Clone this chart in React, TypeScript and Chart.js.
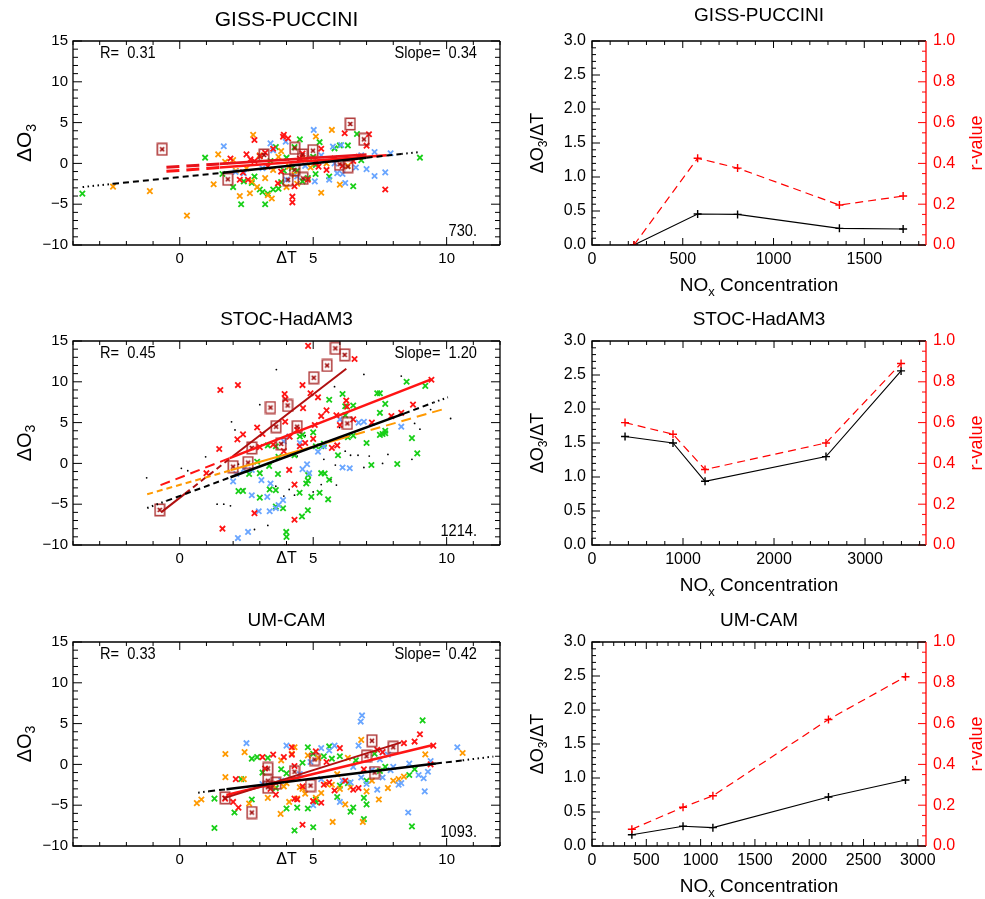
import React, { useEffect, useRef } from 'react';
import { Chart, registerables } from 'chart.js';

Chart.register(...registerables);

type Pt = [number, number];

const FAMILY = "'Liberation Sans', Arimo, Arial, Helvetica, sans-serif";

// ---------------- labels / stats ----------------
const modelNames = ['GISS-PUCCINI', 'STOC-HadAM3', 'UM-CAM'];
const rValues = ['0.31', '0.45', '0.33'];
const slopeValues = ['0.34', '1.20', '0.42'];
const sampleCounts = ['730.', '1214.', '1093.'];

// ---------------- scatter axes ----------------
const dtRange = [-4, 12];
const dtTicks = [0, 5, 10];
const dO3Range = [-10, 15];
const dO3Ticks = [-10, -5, 0, 5, 10, 15];

// ---------------- GISS-PUCCINI scatter ----------------
const gissGreen: Pt[] = [[-3.65,-3.7],[0.95,0.7],[1.6,-1.3],[2.0,-2.9],[2.3,-5.0],[3.2,-5.0],[3.0,-3.2],[2.8,-1.6],[3.1,-3.5],[3.3,-3.7],[3.5,-3.2],[3.7,-3.1],[2.7,-2.4],[4.0,0.7],[4.3,2.0],[3.6,2.0],[4.5,2.95],[5.24,2.6],[5.8,1.85],[6.3,2.2],[6.0,2.2],[6.64,3.6],[6.5,-2.8],[6.8,0.4],[9.0,0.7],[5.09,-1.3],[5.6,-1.6],[4.2,-0.6],[3.9,-0.9],[2.4,-2.2],[4.6,-2.2],[3.4,0.3],[5.0,0.8],[4.8,-1.8],[3.0,0.9],[3.8,-2.3],[4.4,-0.9],[5.1,-0.2]];
const gissOrange: Pt[] = [[-2.5,-2.85],[-1.12,-3.4],[0.27,-6.4],[1.27,-2.56],[1.44,1.1],[2.25,-4.0],[2.63,-3.66],[2.7,-2.2],[2.75,3.5],[2.9,-2.9],[3.3,-3.9],[3.45,-4.3],[3.0,1.0],[3.7,0.8],[4.1,-0.4],[4.4,-2.5],[5.1,3.3],[5.7,4.1],[5.3,-3.6],[6.0,-2.6],[4.3,-1.4],[4.9,-0.5],[5.5,0.0],[3.2,-1.8],[2.1,-0.9],[1.7,0.2],[4.7,0.5],[6.3,-0.3],[3.8,1.5],[2.0,0.4],[2.5,-0.6],[3.5,-0.8],[4.0,-2.9]];
const gissBlue: Pt[] = [[1.65,2.1],[2.09,-1.05],[3.4,2.46],[3.5,1.6],[3.97,2.66],[5.02,4.1],[5.74,2.05],[6.05,2.25],[6.2,-2.4],[7.0,-0.7],[7.3,-1.55],[7.7,-1.1],[7.3,1.4],[7.9,1.24],[5.06,-2.2],[5.6,-2.0],[5.9,-1.2],[4.4,-1.6],[3.1,-0.6],[4.7,-0.3],[6.6,-0.5],[5.3,1.0],[2.4,-1.2],[4.0,-2.0],[6.8,1.0],[5.8,0.0],[6.1,-1.3]];
const gissRed: Pt[] = [[1.9,0.6],[2.5,1.1],[2.65,0.5],[2.37,-1.1],[2.25,-2.0],[2.56,-2.0],[2.8,2.87],[3.0,0.9],[3.2,1.3],[3.5,1.8],[3.87,3.27],[3.9,3.5],[4.06,3.07],[4.22,-4.08],[4.22,-4.77],[3.68,-2.44],[4.5,0.6],[4.8,-2.0],[5.3,1.8],[5.5,-0.8],[5.8,0.6],[6.18,3.7],[7.09,3.57],[7.0,2.17],[7.7,-3.2],[6.1,-0.3],[3.3,-0.4],[4.6,1.2],[5.1,0.1],[6.5,0.3],[2.8,0.3],[3.8,-1.0],[4.3,-2.8],[5.2,-0.4],[6.7,0.8]];
const gissBoxed: Pt[] = [[-0.66,1.73],[1.8,-1.95],[3.16,1.03],[4.31,1.85],[4.6,1.03],[4.99,1.56],[6.39,4.83],[6.9,2.95],[5.99,-0.1],[6.3,-0.4],[4.06,-2.0],[4.62,-1.83],[4.3,-0.8]];
const gissFitBlack: Pt[] = [[-3.64,-2.9],[-2.5,-2.5],[1.6,-1.15],[7.0,0.7],[8.3,1.15],[9.0,1.4]];
const gissFitRed: Pt[] = [[-0.5,-0.97],[1.5,-0.5],[7.75,1.0]];
const gissFitRed2: Pt[] = [[-0.5,-0.48],[1.5,-0.06],[7.0,1.1]];

// ---------------- STOC-HadAM3 scatter ----------------
const stocGreen: Pt[] = [[8.5,10.0],[9.2,9.5],[7.4,8.6],[7.5,8.6],[6.1,8.5],[5.6,7.8],[6.2,7.0],[6.5,7.1],[7.5,6.2],[7.7,7.3],[4.5,3.3],[4.6,3.5],[5.0,3.8],[5.1,2.1],[5.4,2.4],[5.3,2.1],[4.3,1.0],[4.81,-1.44],[4.74,-2.46],[4.8,-2.1],[4.49,-3.6],[4.93,-4.1],[5.24,-3.6],[5.43,-1.24],[5.3,-1.2],[5.56,-4.4],[4.8,-5.74],[4.58,-6.5],[3.87,-5.5],[3.6,-5.3],[3.6,-3.27],[3.37,-3.19],[3.0,-4.2],[2.37,-3.37],[2.2,-3.4],[2.6,-1.3],[3.35,-0.3],[3.0,-1.2],[3.68,-1.3],[3.99,-8.4],[4.0,-9.0],[5.6,-2.0],[5.93,1.0],[6.3,3.2],[7.0,2.5],[7.18,-0.2],[7.5,3.5],[7.6,3.6],[7.7,4.0],[7.7,3.7],[8.15,-0.07],[8.7,3.1],[8.9,1.23],[3.3,2.2],[3.6,2.1],[2.9,0.2],[3.7,0.8],[6.5,3.4],[6.2,5.9]];
const stocBlue: Pt[] = [[2.0,-2.2],[2.12,-1.3],[2.4,-0.7],[2.7,-0.8],[2.96,-5.86],[3.37,-5.86],[2.56,-8.4],[2.18,-9.15],[3.4,-2.46],[3.28,-4.1],[3.6,-5.5],[3.7,-5.1],[3.87,-4.5],[3.06,-2.05],[4.77,-0.1],[4.85,-1.2],[5.18,1.43],[5.4,2.1],[4.5,2.5],[6.0,5.4],[6.7,5.0],[6.9,5.1],[6.37,-0.6],[8.3,4.5],[2.7,-3.9],[3.9,2.7],[4.1,3.3],[6.1,-0.5],[4.6,-0.7]];
const stocRed: Pt[] = [[4.81,14.4],[6.55,12.8],[1.52,9.0],[2.18,9.6],[4.6,9.6],[4.9,8.6],[5.18,8.1],[3.93,8.5],[3.96,7.87],[6.24,7.7],[6.27,6.96],[5.5,6.5],[4.62,6.77],[2.37,3.56],[2.16,2.95],[1.48,1.76],[1.0,-1.2],[3.95,5.1],[4.4,4.1],[5.0,3.0],[5.06,4.7],[5.87,5.9],[5.3,5.8],[6.0,4.7],[7.2,5.0],[7.93,5.8],[8.3,6.2],[8.74,7.2],[9.43,10.25],[4.1,-0.8],[4.3,-2.6],[4.3,-6.9],[1.6,-8.0],[2.8,-6.1],[4.0,-10.3],[3.5,2.3],[4.5,2.1],[3.1,3.6],[2.9,4.4],[3.0,2.0],[3.9,1.5],[4.12,3.27],[5.7,1.9],[6.5,5.4],[4.7,2.5],[5.9,2.2]];
const stocDots: Pt[] = [[-1.24,-1.77],[0.06,-0.6],[0.97,0.8],[1.65,-5.0],[1.9,-5.2],[2.8,-8.1],[3.62,11.5],[6.9,10.9],[8.3,10.7],[10.15,5.5],[1.94,5.1],[2.07,4.1],[3.0,7.2],[5.99,4.4],[4.1,-3.2],[5.83,-0.2],[6.68,1.0],[7.1,0.9],[7.6,0.0],[5.66,-2.0],[5.87,-2.66],[5.0,-3.5],[5.3,-2.6],[5.4,0.5],[6.4,1.0],[9.0,4.2],[5.8,9.4],[3.9,-4.0],[4.3,-3.9],[6.9,-0.5],[8.7,0.5],[2.4,-3.2],[3.6,-2.8],[1.4,-5.0],[2.2,-0.1],[3.5,0.2],[4.4,0.9],[6.2,1.5],[7.8,1.1],[8.8,4.9],[9.4,6.6],[4.7,3.4],[3.3,-7.6],[0.3,-0.9]];
const stocBoxed: Pt[] = [[-0.75,-5.7],[2.0,-0.4],[2.56,0.1],[2.7,1.9],[3.61,4.5],[3.4,6.85],[4.04,7.1],[3.8,2.4],[4.4,4.5],[5.02,10.5],[5.52,12.0],[5.83,14.1],[6.18,13.3],[6.28,4.9]];
const stocFitBlack: Pt[] = [[-1.22,-5.46],[-0.5,-4.6],[1.9,-1.7],[8.4,6.1],[9.5,7.45],[10.05,8.1]];
const stocFitOrange: Pt[] = [[-1.22,-3.78],[1.9,-0.85],[6.0,3.0],[10.0,6.76]];
const stocFitRed: Pt[] = [[-0.72,-2.67],[1.87,0.65],[9.42,10.3]];
const stocFitDarkRed: Pt[] = [[-0.7,-6.0],[0.2,-3.7],[2.0,0.9],[6.24,11.6]];

// ---------------- UM-CAM scatter ----------------
const umGreen: Pt[] = [[1.3,-7.8],[1.3,-4.2],[2.05,-5.9],[2.7,-4.3],[2.7,0.7],[2.9,0.9],[3.3,0.8],[3.6,-2.9],[3.8,-0.6],[4.0,-5.4],[4.0,-1.1],[4.3,-8.1],[4.4,-5.3],[4.6,0.2],[4.8,2.1],[4.8,-5.4],[5.0,-7.7],[5.0,1.3],[5.1,-4.3],[5.1,-4.6],[5.4,1.0],[5.6,2.2],[5.9,-4.0],[6.0,1.0],[6.0,-2.6],[6.3,-2.3],[6.4,-5.8],[6.5,-5.3],[6.9,-6.7],[6.9,-4.1],[7.0,-2.0],[7.0,-4.9],[7.3,1.3],[7.5,-0.8],[7.7,-0.3],[8.7,-7.6],[9.1,5.4],[8.8,-0.6],[8.6,-1.3],[5.7,0.7],[6.6,0.5],[3.1,-1.0],[2.3,-1.8]];
const umOrange: Pt[] = [[0.64,-4.75],[0.81,-4.3],[1.71,1.27],[1.71,-1.56],[2.4,-1.8],[2.43,1.5],[2.6,-4.8],[3.3,-4.1],[3.5,-2.6],[3.78,-6.06],[3.9,-2.7],[4.1,-4.6],[4.2,1.3],[4.3,2.1],[4.4,-4.2],[4.5,-2.8],[4.6,-3.0],[4.7,-3.6],[4.8,1.1],[5.0,-4.5],[5.1,-4.1],[5.3,-3.5],[5.5,-2.4],[5.73,-7.05],[5.7,-2.5],[6.0,-3.0],[6.2,-4.9],[6.4,-2.8],[6.8,3.0],[6.86,-7.05],[7.0,-3.3],[7.2,-2.0],[7.46,-4.3],[7.8,-2.9],[8.0,-2.0],[8.4,-1.5],[8.2,-1.8],[9.2,1.23],[10.6,1.4],[5.2,0.8],[6.3,0.8],[3.8,0.5],[4.0,-2.3],[5.9,-1.2]];
const umBlue: Pt[] = [[2.5,2.6],[4.0,2.3],[4.9,0.3],[5.3,2.0],[5.6,1.7],[5.8,2.3],[6.0,-4.6],[6.1,-2.0],[6.4,-2.2],[6.5,-0.3],[6.7,2.3],[6.78,5.25],[6.83,6.0],[7.0,-2.4],[7.2,-0.7],[7.4,-3.1],[7.5,0.6],[7.6,1.5],[7.8,1.2],[7.9,-0.7],[8.0,-0.3],[8.2,-2.5],[8.3,-2.3],[8.6,0.1],[8.56,-5.9],[8.95,-1.3],[9.14,-1.7],[9.18,-3.3],[9.3,-0.9],[9.4,0.4],[10.4,2.1],[4.5,-1.2],[5.0,-5.0],[5.3,-1.8],[6.8,-1.6],[7.6,-1.6],[3.1,-2.4],[3.8,-2.0]];
const umRed: Pt[] = [[1.7,-4.2],[2.0,-4.6],[2.1,-1.8],[2.2,-5.3],[3.1,0.9],[3.2,-0.5],[3.4,-3.0],[3.6,-3.7],[3.9,0.9],[4.2,2.1],[4.2,1.2],[4.3,-0.2],[4.3,-4.2],[4.6,-2.7],[4.6,-7.4],[5.0,-4.5],[5.1,1.6],[5.3,-4.7],[5.4,-2.5],[5.6,-2.2],[5.8,-3.2],[6.0,2.0],[6.2,-2.0],[6.5,-3.1],[6.7,-2.9],[6.9,-0.6],[7.4,1.8],[7.6,1.5],[8.4,2.6],[8.8,2.8],[9.0,3.7],[9.4,0.0],[9.5,2.3],[5.5,0.3],[3.5,1.2],[4.4,-4.3]];
const umBoxed: Pt[] = [[1.7,-4.1],[2.7,-5.9],[3.3,-0.5],[3.3,-2.0],[3.3,-2.8],[3.6,-2.3],[4.3,-0.9],[4.9,-2.6],[5.05,0.6],[7.0,1.0],[7.2,2.9],[7.3,-1.0],[8.0,2.1]];
const umFitBlack: Pt[] = [[0.69,-3.46],[1.1,-3.3],[1.75,-3.04],[9.6,0.1],[10.6,0.5],[11.75,0.96]];
const umFitRed: Pt[] = [[1.75,-3.74],[9.49,2.39]];
const umFitDarkRed: Pt[] = [[1.7,-4.1],[8.3,2.7]];

// ---------------- NOx sensitivity panels ----------------
const gissNox = [231, 582, 802, 1363, 1714];
const gissSens = [0.0, 0.455, 0.45, 0.245, 0.235];
const gissR = [0.0, 0.425, 0.377, 0.196, 0.24];
const stocNox = [363, 890, 1242, 2571, 3396];
const stocSens = [1.595, 1.5, 0.937, 1.3, 2.56];
const stocR = [0.6, 0.543, 0.37, 0.5, 0.89];
const umNox = [367, 838, 1113, 2177, 2886];
const umSens = [0.165, 0.29, 0.27, 0.72, 0.97];
const umR = [0.082, 0.19, 0.246, 0.62, 0.83];

const noxMax = [1840, 3670, 3075];
const noxTicks = [[0, 500, 1000, 1500], [0, 1000, 2000, 3000], [0, 500, 1000, 1500, 2000, 2500, 3000]];
const noxMinorStep = [100, 200, 100];
const sensTicks = [0, 0.5, 1.0, 1.5, 2.0, 2.5, 3.0];
const rTicks = [0, 0.2, 0.4, 0.6, 0.8, 1.0];

// ---------------- styling ----------------
const C = {
  green: '#18cf18',
  orange: '#ff9a00',
  blue: '#6aa6ff',
  red: '#ff1414',
  red2: '#e8121a',
  darkRed: '#b01010',
  orangeLine: '#ff9900',
};

const LINE_STYLES: Record<string, { dash: number[]; w: number }> = {
  dot: { dash: [1.5, 3.5], w: 2 },
  dash: { dash: [6, 4], w: 2 },
  solid: { dash: [], w: 2.6 },
  ldash: { dash: [13, 7], w: 3 },
  ldashThin: { dash: [10, 6], w: 2 },
  thin: { dash: [], w: 2 },
};

const toXY = (a: Pt[]) => a.map(([x, y]) => ({ x, y }));
const zipXY = (xs: number[], ys: number[]) => xs.map((x, i) => ({ x, y: ys[i] }));

function fitSets(points: Pt[], styles: string[], color: string) {
  return styles.map((s, i) => ({
    type: 'line',
    data: toXY([points[i], points[i + 1]]),
    borderColor: color,
    borderWidth: LINE_STYLES[s].w,
    borderDash: LINE_STYLES[s].dash,
    borderCapStyle: 'butt',
    pointRadius: 0,
    fill: false,
    tension: 0,
    order: 0,
  }));
}

function markerSet(data: Pt[], color: string, order: number) {
  return {
    type: 'scatter',
    data: toXY(data),
    pointStyle: 'crossRot',
    pointRadius: 3.8,
    pointBorderWidth: 1.8,
    pointBorderColor: color,
    pointBackgroundColor: color,
    borderColor: color,
    showLine: false,
    order,
  };
}

function makeBoxMarker() {
  const c = document.createElement('canvas');
  c.width = 12;
  c.height = 14;
  const g = c.getContext('2d')!;
  g.strokeStyle = 'rgba(165,30,30,0.85)';
  g.lineWidth = 1.6;
  g.strokeRect(1.3, 1.3, 9.4, 11.4);
  g.strokeStyle = '#a00c0c';
  g.lineWidth = 1.7;
  g.beginPath();
  g.moveTo(4, 5);
  g.lineTo(8, 9);
  g.moveTo(8, 5);
  g.lineTo(4, 9);
  g.stroke();
  return c;
}

function drawParts(ctx: any, t: any, a: any) {
  const x = t.x === 'center' ? (a.left + a.right) / 2 : t.x;
  ctx.save();
  ctx.translate(x, t.y);
  if (t.rot) ctx.rotate(t.rot);
  if (t.hscale) ctx.scale(t.hscale, 1);
  const fontFor = (p: any) => `${p.sub ? Math.round(t.size * 0.68) : t.size}px ${FAMILY}`;
  const ws = t.parts.map((p: any) => {
    ctx.font = fontFor(p);
    return ctx.measureText(p.t).width;
  });
  const total = ws.reduce((s: number, w: number) => s + w, 0);
  let cx = t.align === 'left' ? 0 : t.align === 'right' ? -total : -total / 2;
  ctx.fillStyle = t.color || '#000';
  ctx.textBaseline = 'middle';
  ctx.textAlign = 'left';
  t.parts.forEach((p: any, i: number) => {
    ctx.font = fontFor(p);
    ctx.fillText(p.t, cx, p.sub ? t.size * 0.32 : 0);
    cx += ws[i];
  });
  ctx.restore();
}

const idlPlugin = {
  id: 'idl',
  afterDraw(chart: any, _args: any, opts: any) {
    const { ctx, chartArea: a } = chart;
    ctx.save();
    for (const ax of opts.axes) {
      const s = chart.scales[ax.id];
      const majors: number[] = s.ticks.map((t: any) => t.value);
      const marks: { v: number; len: number }[] = [];
      const i0 = Math.ceil(s.min / ax.minor - 1e-6);
      const i1 = Math.floor(s.max / ax.minor + 1e-6);
      for (let i = i0; i <= i1; i++) {
        const v = i * ax.minor;
        if (!majors.some((m) => Math.abs(m - v) < ax.minor * 1e-3)) marks.push({ v, len: ax.minorLen });
      }
      majors.forEach((v) => marks.push({ v, len: ax.majorLen }));
      ctx.strokeStyle = ax.color;
      ctx.lineWidth = 1;
      ctx.setLineDash([]);
      ctx.beginPath();
      for (const { v, len } of marks) {
        const p = s.getPixelForValue(v);
        for (const side of ax.sides) {
          if (side === 'bottom') { ctx.moveTo(p, a.bottom); ctx.lineTo(p, a.bottom - len); }
          if (side === 'top') { ctx.moveTo(p, a.top); ctx.lineTo(p, a.top + len); }
          if (side === 'left') { ctx.moveTo(a.left, p); ctx.lineTo(a.left + len, p); }
          if (side === 'right') { ctx.moveTo(a.right, p); ctx.lineTo(a.right - len, p); }
        }
      }
      ctx.stroke();
    }
    ctx.lineWidth = 1.3;
    ctx.strokeStyle = '#000';
    ctx.beginPath();
    ctx.moveTo(a.right, a.top);
    ctx.lineTo(a.left, a.top);
    ctx.lineTo(a.left, a.bottom);
    ctx.lineTo(a.right, a.bottom);
    ctx.stroke();
    ctx.strokeStyle = opts.rightColor || '#000';
    ctx.beginPath();
    ctx.moveTo(a.right, a.top);
    ctx.lineTo(a.right, a.bottom);
    ctx.stroke();
    for (const t of opts.texts) drawParts(ctx, t, a);
    ctx.restore();
  },
};

const minusFmt = (v: number) => String(v).replace('-', '\u2212');

const scatterPanels = [
  {
    green: gissGreen, orange: gissOrange, blue: gissBlue, red: gissRed, boxed: gissBoxed, dots: [] as Pt[],
    fits: [
      { pts: gissFitBlack, styles: ['dot', 'dash', 'solid', 'dash', 'dot'], color: '#000' },
      { pts: gissFitRed2, styles: ['ldash', 'solid'], color: C.red2 },
      { pts: gissFitRed, styles: ['ldash', 'solid'], color: C.red },
    ],
  },
  {
    green: stocGreen, orange: [] as Pt[], blue: stocBlue, red: stocRed, boxed: stocBoxed, dots: stocDots,
    fits: [
      { pts: stocFitBlack, styles: ['dot', 'dash', 'solid', 'dash', 'dot'], color: '#000' },
      { pts: stocFitOrange, styles: ['dash', 'thin', 'ldashThin'], color: C.orangeLine },
      { pts: stocFitRed, styles: ['ldashThin', 'solid'], color: C.red },
      { pts: stocFitDarkRed, styles: ['thin', 'dash', 'thin'], color: C.darkRed },
    ],
  },
  {
    green: umGreen, orange: umOrange, blue: umBlue, red: umRed, boxed: umBoxed, dots: [] as Pt[],
    fits: [
      { pts: umFitBlack, styles: ['dot', 'dash', 'solid', 'dash', 'dot'], color: '#000' },
      { pts: umFitDarkRed, styles: ['thin'], color: C.darkRed },
      { pts: umFitRed, styles: ['solid'], color: C.red },
    ],
  },
];

function scatterConfig(i: number, h: number): any {
  const P = scatterPanels[i];
  const box = makeBoxMarker();
  const datasets: any[] = [
    ...P.fits.flatMap((f) => fitSets(f.pts, f.styles, f.color)),
    { type: 'scatter', data: toXY(P.boxed), pointStyle: box, pointRadius: 6, showLine: false, order: 1 },
    markerSet(P.red, C.red, 2),
    markerSet(P.blue, C.blue, 3),
    markerSet(P.orange, C.orange, 4),
    markerSet(P.green, C.green, 5),
    {
      type: 'scatter', data: toXY(P.dots), pointStyle: 'circle', pointRadius: 0.9, pointBorderWidth: 0,
      pointBackgroundColor: '#000', showLine: false, order: 6,
    },
  ];
  const big = i === 0;
  return {
    type: 'scatter',
    data: { datasets },
    plugins: [idlPlugin],
    options: {
      responsive: false,
      animation: false,
      devicePixelRatio: 1,
      events: [],
      layout: { padding: { top: 41, right: 10, left: 0, bottom: 0 } },
      plugins: {
        legend: { display: false },
        tooltip: { enabled: false },
        idl: {
          rightColor: '#000',
          axes: [
            { id: 'x', sides: ['bottom', 'top'], minor: 1, majorLen: 8, minorLen: 4, color: '#000' },
            { id: 'y', sides: ['left', 'right'], minor: 1, majorLen: 9, minorLen: 5, color: '#000' },
          ],
          texts: [
            { parts: [{ t: modelNames[i] }], size: big ? 21 : 19, x: 'center', y: 20 },
            { parts: [{ t: '\u0394O' }, { t: '3', sub: true }], size: big ? 21 : 20, x: 25, y: 143, rot: -Math.PI / 2 },
            { parts: [{ t: '\u0394T' }], size: 16, x: 'center', y: 259 },
            { parts: [{ t: `R=  ${rValues[i]}` }], size: 17, x: 100, y: 53, align: 'left', hscale: 0.86 },
            { parts: [{ t: `Slope=  ${slopeValues[i]}` }], size: 17, x: 477, y: 53, align: 'right', hscale: 0.86 },
            { parts: [{ t: sampleCounts[i] }], size: 17, x: 477, y: 231, align: 'right', hscale: 0.86 },
          ],
        },
      },
      scales: {
        x: {
          type: 'linear', min: dtRange[0], max: dtRange[1],
          afterBuildTicks: (s: any) => { s.ticks = dtTicks.map((v) => ({ value: v })); },
          afterFit: (s: any) => { s.height = h - 245; },
          ticks: { font: { family: FAMILY, size: 15 }, color: '#000', padding: 5, maxRotation: 0, autoSkip: false, callback: (v: number) => minusFmt(v) },
          grid: { display: false, drawTicks: false },
          border: { display: false },
        },
        y: {
          type: 'linear', min: dO3Range[0], max: dO3Range[1],
          afterBuildTicks: (s: any) => { s.ticks = dO3Ticks.map((v) => ({ value: v })); },
          afterFit: (s: any) => { s.width = 73; },
          ticks: { font: { family: FAMILY, size: 15 }, color: '#000', padding: 5, autoSkip: false, callback: (v: number) => minusFmt(v) },
          grid: { display: false, drawTicks: false },
          border: { display: false },
        },
      },
    },
  };
}

const noxPanels = [
  { nox: gissNox, sens: gissSens, r: gissR },
  { nox: stocNox, sens: stocSens, r: stocR },
  { nox: umNox, sens: umSens, r: umR },
];

function noxConfig(i: number, h: number): any {
  const P = noxPanels[i];
  return {
    type: 'line',
    data: {
      datasets: [
        {
          data: zipXY(P.nox, P.r), yAxisID: 'y2', borderColor: '#ff0000', borderWidth: 1.2, borderDash: [8, 5],
          pointStyle: 'cross', pointRadius: 4, pointBorderWidth: 1.4, pointBorderColor: '#ff0000', tension: 0, fill: false,
        },
        {
          data: zipXY(P.nox, P.sens), yAxisID: 'y', borderColor: '#000', borderWidth: 1.1,
          pointStyle: 'cross', pointRadius: 4, pointBorderWidth: 1.4, pointBorderColor: '#000', tension: 0, fill: false,
        },
      ],
    },
    plugins: [idlPlugin],
    options: {
      responsive: false,
      animation: false,
      devicePixelRatio: 1,
      events: [],
      layout: { padding: { top: 41, right: 0, left: 0, bottom: 0 } },
      plugins: {
        legend: { display: false },
        tooltip: { enabled: false },
        idl: {
          rightColor: '#ff0000',
          axes: [
            { id: 'x', sides: ['bottom', 'top'], minor: noxMinorStep[i], majorLen: 7, minorLen: 4, color: '#000' },
            { id: 'y', sides: ['left'], minor: 0.1, majorLen: 8, minorLen: 4, color: '#000' },
            { id: 'y2', sides: ['right'], minor: 0.05, majorLen: 8, minorLen: 4, color: '#ff0000' },
          ],
          texts: [
            { parts: [{ t: modelNames[i] }], size: 19, x: 'center', y: i === 0 ? 16 : 20 },
            { parts: [{ t: '\u0394O' }, { t: '3', sub: true }, { t: '/\u0394T' }], size: 18, x: 28, y: 143, rot: -Math.PI / 2 },
            { parts: [{ t: 'NO' }, { t: 'x', sub: true }, { t: ' Concentration' }], size: 19, x: 'center', y: 286 },
            { parts: [{ t: 'r-value' }], size: 18, x: 467, y: 143, rot: -Math.PI / 2, color: '#ff0000' },
          ],
        },
      },
      scales: {
        x: {
          type: 'linear', min: 0, max: noxMax[i],
          afterBuildTicks: (s: any) => { s.ticks = noxTicks[i].map((v) => ({ value: v })); },
          afterFit: (s: any) => { s.height = h - 245; },
          ticks: { font: { family: FAMILY, size: 16 }, color: '#000', padding: 5, maxRotation: 0, autoSkip: false, callback: (v: number) => String(v) },
          grid: { display: false, drawTicks: false },
          border: { display: false },
        },
        y: {
          type: 'linear', position: 'left', min: 0, max: 3,
          afterBuildTicks: (s: any) => { s.ticks = sensTicks.map((v) => ({ value: v })); },
          afterFit: (s: any) => { s.width = 82; },
          ticks: { font: { family: FAMILY, size: 16 }, color: '#000', padding: 6, autoSkip: false, callback: (v: number) => v.toFixed(1) },
          grid: { display: false, drawTicks: false },
          border: { display: false },
        },
        y2: {
          type: 'linear', position: 'right', min: 0, max: 1,
          afterBuildTicks: (s: any) => { s.ticks = rTicks.map((v) => ({ value: v })); },
          afterFit: (s: any) => { s.width = 59; },
          ticks: { font: { family: FAMILY, size: 16 }, color: '#ff0000', padding: 7, autoSkip: false, callback: (v: number) => v.toFixed(1) },
          grid: { display: false, drawTicks: false },
          border: { display: false },
        },
      },
    },
  };
}

function Panel({ left, top, width, height, make }: { left: number; top: number; width: number; height: number; make: (h: number) => any }) {
  const ref = useRef<HTMLCanvasElement>(null);
  useEffect(() => {
    const chart = new Chart(ref.current as HTMLCanvasElement, make(height));
    return () => chart.destroy();
  }, []);
  return (
    <canvas
      ref={ref}
      width={width}
      height={height}
      style={{ position: 'absolute', left, top, width, height, display: 'block' }}
    />
  );
}

const ROW_TOPS = [0, 300, 601];
const ROW_HEIGHTS = [300, 300, 298];

export default function App() {
  return (
    <div style={{ position: 'absolute', left: 0, top: 0, width: 985, height: 899, background: '#fff', overflow: 'hidden' }}>
      {[0, 1, 2].map((i) => (
        <React.Fragment key={i}>
          <Panel left={0} top={ROW_TOPS[i]} width={510} height={ROW_HEIGHTS[i]} make={(h) => scatterConfig(i, h)} />
          <Panel left={510} top={ROW_TOPS[i]} width={475} height={ROW_HEIGHTS[i]} make={(h) => noxConfig(i, h)} />
        </React.Fragment>
      ))}
    </div>
  );
}
